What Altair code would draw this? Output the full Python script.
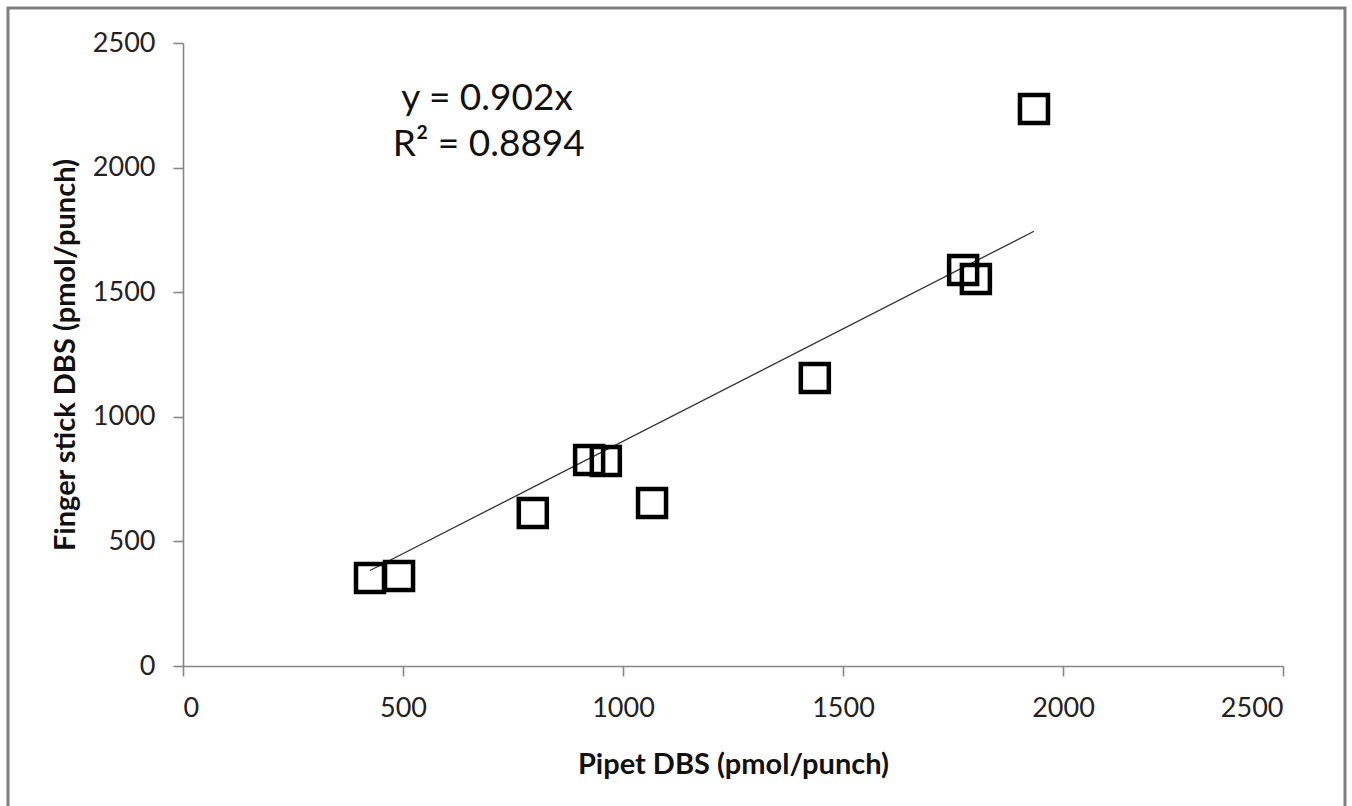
import altair as alt
import pandas as pd

# Data
pipet = [425, 491, 795, 923, 961, 1066, 1436, 1773, 1802, 1934]
finger = [353, 361, 614, 827, 823, 654, 1156, 1589, 1553, 2235]

slope = 0.902
eq_lines = ["y = 0.902x", "R² = 0.8894"]
eq_x = [691, 695]
eq_y = [2275, 2090]

x_ticks = [0, 500, 1000, 1500, 2000, 2500]
y_ticks = [0, 500, 1000, 1500, 2000, 2500]

FONT = "Lato"
AXIS_COLOR = "#868686"

pts = pd.DataFrame({"x": pipet, "y": finger})
xmin, xmax = min(pipet), max(pipet)
trend = pd.DataFrame({"x": [xmin, xmax], "y": [slope * xmin, slope * xmax]})
eq = pd.DataFrame({"label": eq_lines, "x": eq_x, "y": eq_y})

xscale = alt.Scale(domain=[0, 2500], nice=False, zero=False)
yscale = alt.Scale(domain=[0, 2500], nice=False, zero=False)

xaxis = alt.Axis(
    title="Pipet DBS (pmol/punch)", values=x_ticks, grid=False, format="d",
    domainColor=AXIS_COLOR, domainWidth=1.6, tickColor=AXIS_COLOR, tickWidth=1.6,
    tickSize=10, labelFontSize=27, labelFont=FONT, labelColor="#222222",
    labelPadding=19, titleFont=FONT, titleFontSize=29, titleFontWeight="bold",
    titleColor="#111111", titlePadding=29,
)
yaxis = alt.Axis(
    title="Finger stick DBS (pmol/punch)", values=y_ticks, grid=False, format="d",
    domainColor=AXIS_COLOR, domainWidth=1.6, tickColor=AXIS_COLOR, tickWidth=1.6,
    tickSize=10, labelFontSize=27, labelFont=FONT, labelColor="#222222",
    labelPadding=18, titleFont=FONT, titleFontSize=29, titleFontWeight="bold",
    titleColor="#111111", titlePadding=12,
)

base = alt.Chart(pts)

frame = alt.Chart(pd.DataFrame({"a": [0]})).mark_rect(
    fill=None, stroke="#7f7f7f", strokeWidth=3, clip=False
).encode(
    x=alt.value(-175), x2=alt.value(1162),
    y=alt.value(-35), y2=alt.value(800),
)

line = alt.Chart(trend).mark_line(color="#333333", strokeWidth=1.3).encode(
    x=alt.X("x:Q", scale=xscale, axis=xaxis),
    y=alt.Y("y:Q", scale=yscale, axis=yaxis),
)

points = base.mark_point(
    shape="square", filled=False, stroke="black", strokeWidth=4.5, size=784, opacity=1
).encode(
    x=alt.X("x:Q", scale=xscale, axis=xaxis),
    y=alt.Y("y:Q", scale=yscale, axis=yaxis),
)

text = alt.Chart(eq).mark_text(
    font=FONT, fontSize=37, color="#111111", align="center", baseline="middle"
).encode(
    x=alt.X("x:Q", scale=xscale),
    y=alt.Y("y:Q", scale=yscale),
    text="label:N",
)

chart = alt.layer(frame, line, points, text).properties(
    width=1100, height=623,
    padding={"left": 183, "top": 43, "right": 69, "bottom": 140},
    autosize=alt.AutoSizeParams(type="none"),
    background="white",
).configure_view(stroke=None)

chart.save("out.html", embed_options={"renderer": "svg", "actions": False})
